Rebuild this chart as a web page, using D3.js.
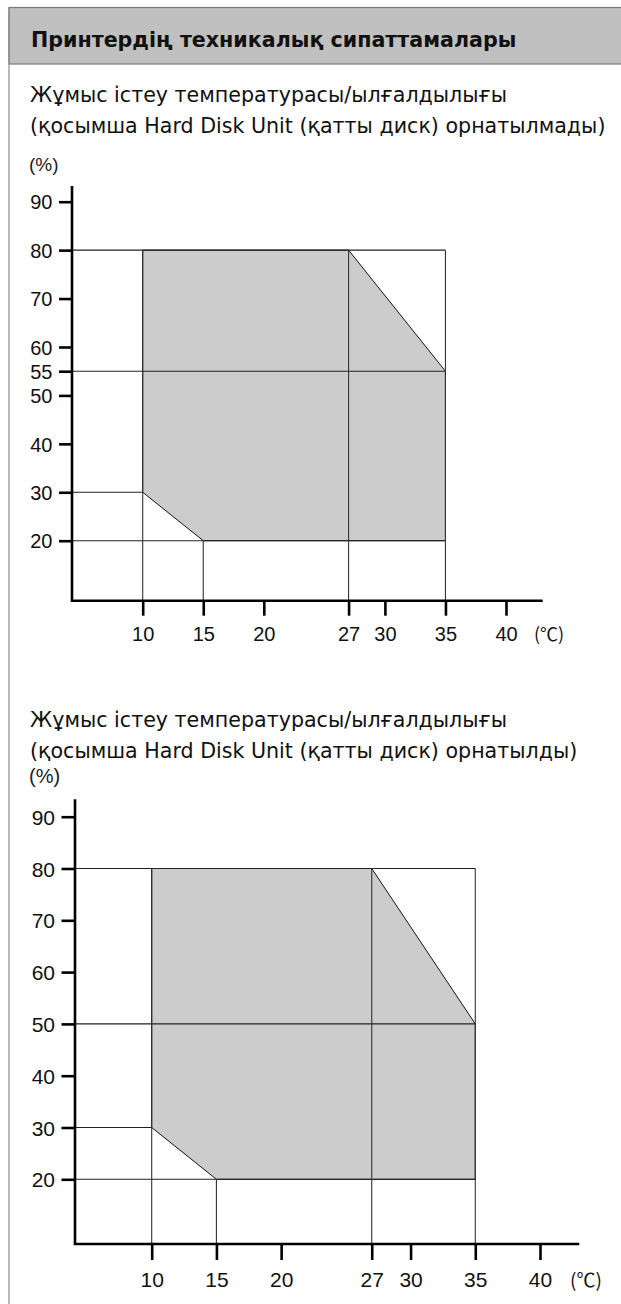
<!DOCTYPE html>
<html>
<head>
<meta charset="utf-8">
<script src="https://cdn.jsdelivr.net/npm/d3@7"></script>
<style>
  html, body { margin: 0; padding: 0; background: #fff; }
  svg { display: block; }
</style>
</head>
<body>
<svg id="chart" width="621" height="1304"></svg>
<script>
// ---- data ----
const headerTitle = "Принтердің техникалық сипаттамалары";
const chart1Title = ["Жұмыс істеу температурасы/ылғалдылығы", "(қосымша Hard Disk Unit (қатты диск) орнатылмады)"];
const chart2Title = ["Жұмыс істеу температурасы/ылғалдылығы", "(қосымша Hard Disk Unit (қатты диск) орнатылды)"];
const yUnit = "(%)";
const xUnit = "(℃)";
const xTicks = [10, 15, 20, 27, 30, 35, 40];
const yTicks1 = [20, 30, 40, 50, 55, 60, 70, 80, 90];
const yTicks2 = [20, 30, 40, 50, 60, 70, 80, 90];
// operating region polygons: [temperature °C, humidity %]
const region1 = [[10, 80], [27, 80], [35, 55], [35, 20], [15, 20], [10, 30]];
const region2 = [[10, 80], [27, 80], [35, 50], [35, 20], [15, 20], [10, 30]];
// reference lines: horizontal [humidity, up to temperature], vertical [temperature, up to humidity]
const hLines1 = [[80, 35], [55, 35], [30, 10], [20, 35]];
const vLines1 = [[10, 80], [15, 20], [27, 80], [35, 80]];
const hLines2 = [[80, 35], [50, 35], [30, 10], [20, 35]];
const vLines2 = [[10, 80], [15, 20], [27, 80], [35, 80]];

const svg = d3.select("#chart");
const TITLE_FONT = "'DejaVu Sans', Verdana, sans-serif";
const NUM_FONT = "'Liberation Sans', Arial, sans-serif";

// fit subtitle font so the longest line spans the reference width
const probe = svg.append("text").attr("font-family", TITLE_FONT).attr("font-size", 20).text(chart1Title[1]);
const probeW = probe.node().getComputedTextLength() || 576;
probe.remove();
const SUB_FS = Math.min(21, 20 * 576 / probeW);

// ---- frame / header ----
svg.append("rect").attr("x", 9).attr("y", 7.5).attr("width", 640).attr("height", 56.5)
  .attr("fill", "#c0c0c0").attr("stroke", "#7a7a7a").attr("stroke-width", 1.2);
svg.append("line").attr("x1", 9).attr("x2", 9).attr("y1", 7).attr("y2", 1304)
  .attr("stroke", "#8a8a8a").attr("stroke-width", 1.2);
svg.append("text").attr("x", 31).attr("y", 46.5)
  .attr("font-family", TITLE_FONT).attr("font-weight", "bold").attr("font-size", SUB_FS)
  .attr("fill", "#111").text(headerTitle);

function drawChart(cfg) {
  const g = svg.append("g");
  const x = d3.scaleLinear().domain([10, 40]).range(cfg.xr);
  const y = d3.scaleLinear().domain([20, 90]).range(cfg.yr);

  // titles
  cfg.title.forEach((t, i) => {
    g.append("text").attr("x", 30).attr("y", cfg.titleY[i])
      .attr("font-family", TITLE_FONT).attr("font-size", SUB_FS)
      .attr("fill", "#111").text(t);
  });
  g.append("text").attr("x", 29).attr("y", cfg.unitY)
    .attr("font-family", NUM_FONT).attr("font-size", cfg.fs - 1).attr("fill", "#222").text(yUnit);

  // shaded region
  g.append("path").datum(cfg.region)
    .attr("d", d3.line().x(d => x(d[0])).y(d => y(d[1])).curve(d3.curveLinearClosed))
    .attr("fill", "#cccccc").attr("stroke", "#111").attr("stroke-width", 1);

  // reference lines
  g.selectAll(".hl").data(cfg.hLines).join("line")
    .attr("x1", cfg.x0).attr("x2", d => x(d[1]))
    .attr("y1", d => y(d[0])).attr("y2", d => y(d[0]))
    .attr("stroke", "#222").attr("stroke-width", 1.1);
  g.selectAll(".vl").data(cfg.vLines).join("line")
    .attr("x1", d => x(d[0])).attr("x2", d => x(d[0]))
    .attr("y1", d => y(d[1])).attr("y2", cfg.y0)
    .attr("stroke", "#333").attr("stroke-width", 1.1);

  // axes
  const ya = g.append("g").attr("transform", `translate(${cfg.x0},0)`)
    .call(d3.axisLeft(y).tickValues(cfg.yTicks).tickFormat(d3.format("d"))
      .tickSize(cfg.ytick).tickPadding(cfg.ypad));
  const xa = g.append("g").attr("transform", `translate(0,${cfg.y0})`)
    .call(d3.axisBottom(x).tickValues(xTicks).tickFormat(d3.format("d"))
      .tickSize(cfg.xtick).tickPadding(cfg.xpad));
  [ya, xa].forEach(a => {
    a.select(".domain").remove();
    a.attr("font-family", NUM_FONT).attr("font-size", cfg.fs);
    a.selectAll(".tick line").attr("stroke", "#000").attr("stroke-width", 2.6);
    a.selectAll(".tick text").attr("fill", "#111");
  });
  ya.selectAll(".tick text").attr("dy", "0.36em");

  // axis lines
  g.append("path")
    .attr("d", `M${cfg.x0},${cfg.yTop}V${cfg.y0}H${cfg.xEnd}`)
    .attr("fill", "none").attr("stroke", "#000").attr("stroke-width", 2.6)
    .attr("stroke-linejoin", "miter");

  // x unit
  g.append("text").attr("x", x(43.55)).attr("y", cfg.y0 + cfg.xpad + cfg.xtick + 0.71 * cfg.fs)
    .attr("text-anchor", "middle")
    .attr("font-family", "'Noto Sans CJK JP', 'DejaVu Sans', sans-serif")
    .attr("font-size", cfg.fs - 2).attr("fill", "#111").text(xUnit);
}

drawChart({
  title: chart1Title, titleY: [102, 133], unitY: 171,
  xr: [142.7, 506], yr: [540.7, 201.7], x0: 72, y0: 600.7, yTop: 186, xEnd: 542.7,
  yTicks: yTicks1, region: region1, hLines: hLines1, vLines: vLines1,
  fs: 20, ytick: 13, ypad: 6.5, xtick: 15, xpad: 11
});
drawChart({
  title: chart2Title, titleY: [727, 758], unitY: 783,
  xr: [151.7, 540], yr: [1179.3, 816.7], x0: 75, y0: 1244, yTop: 799.3, xEnd: 579.3,
  yTicks: yTicks2, region: region2, hLines: hLines2, vLines: vLines2,
  fs: 21, ytick: 13.5, ypad: 6.5, xtick: 16, xpad: 12
});
</script>
</body>
</html>
